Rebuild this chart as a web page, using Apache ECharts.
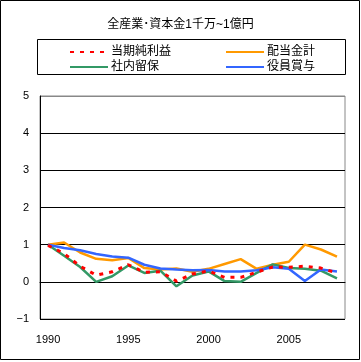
<!DOCTYPE html>
<html><head><meta charset="utf-8">
<script src="https://cdn.jsdelivr.net/npm/echarts@6/dist/echarts.min.js"></script>
<style>html,body{margin:0;padding:0;background:#fff}#c{width:361px;height:362px}</style>
</head><body><div id="c"></div>
<script>
const years = ['1990','1991','1992','1993','1994','1995','1996','1997','1998','1999','2000','2001','2002','2003','2004','2005','2006','2007','2008'];
const netProfit = [0.98,0.76,0.42,0.18,0.27,0.46,0.26,0.27,0.02,0.21,0.29,0.12,0.12,0.26,0.40,0.39,0.42,0.37,0.24];
const dividends = [1.00,1.06,0.79,0.62,0.58,0.64,0.37,0.33,0.36,0.27,0.35,0.48,0.61,0.35,0.46,0.54,1.00,0.87,0.68];
const retained = [1.00,0.70,0.40,0.00,0.15,0.44,0.24,0.30,-0.12,0.17,0.28,0.02,0.00,0.24,0.47,0.37,0.35,0.30,0.09];
const bonuses = [1.00,0.91,0.85,0.75,0.68,0.65,0.46,0.36,0.33,0.31,0.32,0.28,0.28,0.31,0.39,0.35,0.02,0.33,0.28];
const yTicks = [-1,0,1,2,3,4,5];
const names = ['当期純利益','配当金計','社内留保','役員賞与'];
const font = 'Liberation Sans, Arial, "Noto Sans CJK JP", sans-serif';

const legendCommon = {orient:'vertical', top:41, itemWidth:38, itemHeight:12, itemGap:3,
  itemStyle:{opacity:0}, textStyle:{fontSize:12, color:'#000', padding:[0,0,0,-2]}};

const chart = echarts.init(document.getElementById('c'), null, {renderer:'canvas'});
chart.setOption({
  backgroundColor:'#fff',
  animation:false,
  textStyle:{fontFamily:font},
  title:{text:'全産業･資本金1千万~1億円', left:'center', top:14, textStyle:{fontSize:12, fontWeight:'normal', color:'#000', fontFamily:font}},
  graphic:[
    {type:'rect', shape:{x:0.5,y:0.5,width:359,height:359}, style:{fill:'none', stroke:'#000', lineWidth:1}, z:-1},
    {type:'rect', shape:{x:37.5,y:39.5,width:308,height:35}, style:{fill:'none', stroke:'#000', lineWidth:1}}
  ],
  legend:[
    Object.assign({data:[names[0],names[2]], left:64}, legendCommon),
    Object.assign({data:[names[1],names[3]], left:220}, legendCommon)
  ],
  grid:{left:40, right:16, top:96, bottom:43, show:true, borderColor:'#888', borderWidth:1},
  xAxis:{type:'category', data:years, boundaryGap:true,
    axisLine:{lineStyle:{color:'#000', width:1}},
    axisTick:{inside:true, length:4, lineStyle:{color:'#000'}},
    axisLabel:{interval:4, color:'#000', fontSize:11, margin:15}},
  yAxis:{type:'value', min:yTicks[0], max:yTicks[yTicks.length-1], interval:1,
    axisLine:{show:true, lineStyle:{color:'#000'}},
    axisTick:{show:false},
    axisLabel:{color:'#000', fontSize:11, margin:11, formatter:v=>v<0?'−'+Math.abs(v):String(v)},
    splitLine:{show:true, lineStyle:{color:['#000','#000','#000','#000','#000','#000','#888'], width:1}}},
  series:[
    {name:names[0], type:'line', data:netProfit, symbol:'none', z:5, lineStyle:{color:'#ff0000', width:3, type:[4,6]}, itemStyle:{color:'#ff0000'}},
    {name:names[1], type:'line', data:dividends, symbol:'none', lineStyle:{color:'#ff9900', width:2.5}, itemStyle:{color:'#ff9900'}},
    {name:names[2], type:'line', data:retained, symbol:'none', lineStyle:{color:'#339966', width:2.5}, itemStyle:{color:'#339966'}},
    {name:names[3], type:'line', data:bonuses, symbol:'none', lineStyle:{color:'#3366ff', width:2.5}, itemStyle:{color:'#3366ff'}}
  ]
});
</script></body></html>
